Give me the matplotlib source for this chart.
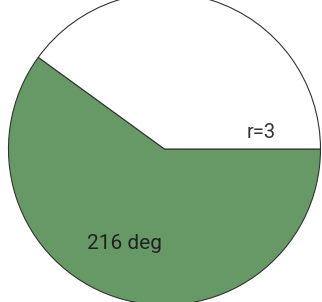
import matplotlib
matplotlib.use('Agg')
import matplotlib.pyplot as plt

# data
sector_deg = [216, 144]          # shaded sector, remainder
sector_colors = ['#669966', '#ffffff']
radius = 3
angle_label = '216 deg'
radius_label = 'r=3'

plt.rcParams['font.family'] = ['Roboto', 'DejaVu Sans']

fig = plt.figure(figsize=(3.22, 3.02), dpi=100)
ax = fig.add_axes([0, 0, 1, 1])

ax.pie(sector_deg, colors=sector_colors, radius=radius, startangle=0,
       counterclock=False,
       wedgeprops=dict(edgecolor='#333333', linewidth=0.8))

ax.text(1.86, 0.32, radius_label, ha='center', va='center', fontsize=14.5, color='#333333')
ax.text(-0.76, -1.81, angle_label, ha='center', va='center', fontsize=15, color='#222222')

ax.set_aspect('equal')
ax.set_xlim(-3.163, 3.029)
ax.set_ylim(-2.942, 2.865)
ax.axis('off')

fig.savefig('out.png', dpi=100)
